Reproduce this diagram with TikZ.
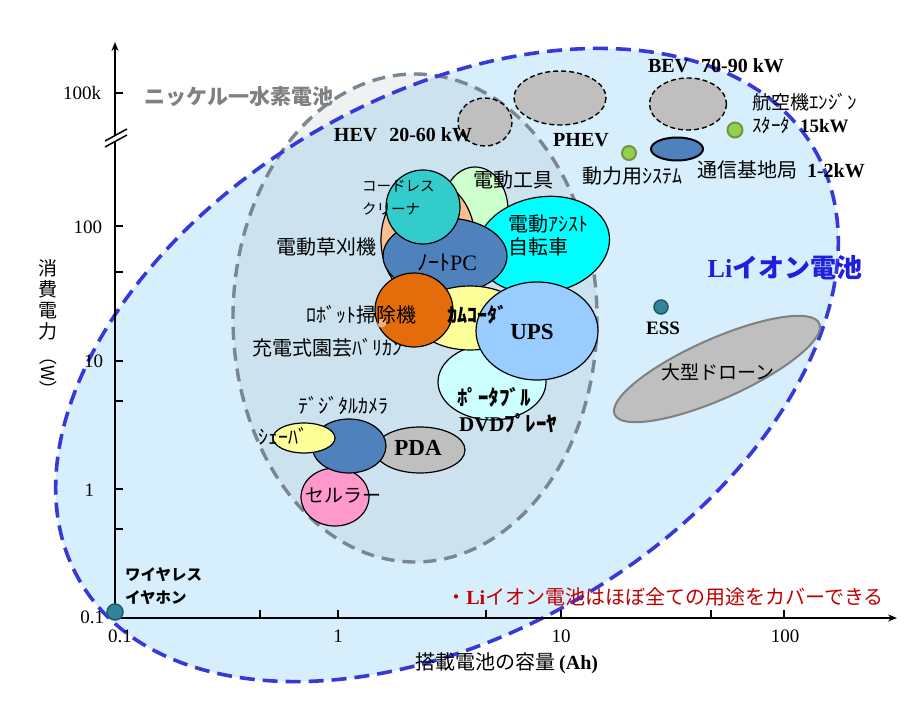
\documentclass[tikz,border=0pt]{standalone}
\usepackage{fontspec}
\usepackage{graphicx}
\setmainfont{Liberation Serif}
\newfontfamily\jp{Noto Sans CJK JP}
\usetikzlibrary{arrows.meta}
\newcommand{\myfs}[1]{\fontsize{#1}{#1}\selectfont}
\definecolor{lifill}{HTML}{D7EFFC}
\definecolor{liline}{HTML}{3838D8}
\definecolor{nimhfill}{HTML}{7F8C99}
\definecolor{nimhline}{HTML}{7A8690}
\definecolor{cgreen}{HTML}{CCFFCC}
\definecolor{cpeach}{HTML}{FAC090}
\definecolor{cteal}{HTML}{33CCCC}
\definecolor{cblue}{HTML}{4F81BD}
\definecolor{ccyan}{HTML}{00FFFF}
\definecolor{corange}{HTML}{E46C0A}
\definecolor{cyellow}{HTML}{FFFF99}
\definecolor{cups}{HTML}{99CCFF}
\definecolor{cdvd}{HTML}{CCFFFF}
\definecolor{cgray}{HTML}{BFBFBF}
\definecolor{cpink}{HTML}{FF99CC}
\definecolor{dotgreen}{HTML}{92D050}
\definecolor{dotgreenb}{HTML}{77933C}
\definecolor{dotteal}{HTML}{31849B}
\definecolor{dottealb}{HTML}{215968}
\definecolor{redtxt}{HTML}{C00000}
\definecolor{litxt}{HTML}{1F1FE0}
\definecolor{nimhtxt}{HTML}{808080}
\tikzset{
  bubble/.style={draw=black, line width=1.2pt},
  topev/.style={fill=cgray, draw=black, line width=1.4pt, dash pattern=on 5pt off 3pt},
  lbl/.style={inner sep=0pt, outer sep=0pt},
  tick/.style={line width=1.6pt},
}
\begin{document}
\begin{tikzpicture}[x=1pt,y=-1pt]
\useasboundingbox (0,0) rectangle (923,708);
\fill[white] (0,0) rectangle (923,708);

% Li-ion region
\fill[lifill, rotate around={30.6:(447,365)}] (447,365) ellipse [x radius=426, y radius=268];
% NiMH region
\fill[nimhfill, fill opacity=0.12] (415,318) ellipse [x radius=182, y radius=244];
\draw[nimhline, line width=3.4pt, dash pattern=on 13pt off 8pt] (415,318) ellipse [x radius=182, y radius=244];
\draw[liline, line width=3.6pt, dash pattern=on 15pt off 8pt, rotate around={30.6:(447,365)}] (447,365) ellipse [x radius=426, y radius=268];

% axes
\coordinate (o) at (115,618);
\coordinate (ytop) at (115,42);
\coordinate (xend) at (897,618);
\draw[line width=1.8pt, -{Stealth[length=9pt,width=7pt]}] (o) -- (ytop);
\draw[line width=1.8pt, -{Stealth[length=9pt,width=7pt]}] (o) -- (xend);
\foreach \yy in {93,226,272,361,401,489,529} \draw[tick] (115,\yy) -- (123,\yy);
\foreach \xx in {260,338,486,561,711,784} \draw[tick] (\xx,618) -- (\xx,610);
% axis break
\fill[white] (105,141) -- (127,129) -- (127,135) -- (105,147) -- cycle;
\draw[line width=1.5pt] (105,141) -- (127,129);
\draw[line width=1.5pt] (105,147) -- (127,135);

% top dashed EV ellipses
\draw[topev] (485,122) ellipse [x radius=27, y radius=24];
\draw[topev] (560,98) ellipse [x radius=46, y radius=27];
\draw[topev] (688,104) ellipse [x radius=38.5, y radius=26];

% small dots / right side
\filldraw[fill=dotgreen, draw=dotgreenb, line width=2pt] (735,130) circle [radius=7.5];
\filldraw[fill=dotgreen, draw=dotgreenb, line width=2pt] (629,153) circle [radius=7];
\filldraw[fill=cblue, draw=black, line width=2pt] (677,149) ellipse [x radius=26, y radius=11.5];
\filldraw[fill=dotteal, draw=dottealb, line width=1.5pt] (661,307) circle [radius=7];
\filldraw[fill=cgray, draw=gray, line width=2pt, rotate around={24:(717,369)}] (717,369) ellipse [x radius=112, y radius=30];

% central cluster
\filldraw[bubble, fill=cgreen] (475,210) ellipse [x radius=33, y radius=43];
\filldraw[bubble, fill=cpeach] (428,240) ellipse [x radius=47, y radius=60];
\filldraw[bubble, fill=ccyan, rotate around={10:(543,245)}] (543,245) ellipse [x radius=67, y radius=48];
\filldraw[bubble, fill=cblue] (445,256) ellipse [x radius=62, y radius=38];
\filldraw[bubble, fill=cteal] (423,207) circle [radius=37];
\filldraw[bubble, fill=cdvd] (492,382) ellipse [x radius=54, y radius=38];
\filldraw[bubble, fill=cyellow] (470,318) ellipse [x radius=55, y radius=32];
\filldraw[bubble, fill=corange] (414,310) ellipse [x radius=39, y radius=37];
\filldraw[bubble, fill=cups] (537,331) ellipse [x radius=61, y radius=49];
\filldraw[fill=cpeach!80!orange, draw=cpeach!60!black, line width=0.6pt] (382,323) circle [radius=5];

% lower cluster
\filldraw[bubble, fill=cpink] (335,497) ellipse [x radius=34, y radius=29];
\filldraw[bubble, fill=cgray] (420,450) ellipse [x radius=45, y radius=23];
\filldraw[bubble, fill=cblue] (349,446) ellipse [x radius=37, y radius=27];
\filldraw[bubble, fill=cyellow] (304,438) ellipse [x radius=31, y radius=15];

% origin dot
\filldraw[fill=dotteal, draw=dottealb, line width=1.5pt] (115,612) circle [radius=8];

% axis labels
\node[lbl, anchor=east] (l100k) at (101,93) {\myfs{19}100k};
\node[lbl, anchor=east] (l100) at (102,227) {\myfs{19}100};
\node[lbl, anchor=east] (l10) at (103,361) {\myfs{19}10};
\node[lbl, anchor=east] (l1) at (94,490) {\myfs{19}1};
\node[lbl, anchor=east] (l01y) at (104,617) {\myfs{19}0.1};
\node[lbl] (l01x) at (120,636) {\myfs{19}0.1};
\node[lbl] (lx1) at (338,636) {\myfs{19}1};
\node[lbl] (lx10) at (561,636) {\myfs{19}10};
\node[lbl] (lx100) at (785,636) {\myfs{19}100};
\node[lbl] (xtitle) at (507,663) {\jp\myfs{20}搭載電池の容量\,{\rmfamily\bfseries (Ah)}};
\node[lbl, align=center, font={\jp\fontsize{19}{21}\selectfont}] (ytitle1) at (48,300) {消\\費\\電\\力};
\node[lbl, rotate=-90] (ytitle2) at (48,373) {\jp\myfs{18}（W）};

% region labels
\node[lbl, text=nimhtxt] (nimh) at (239,97) {\jp\bfseries\myfs{21}ニッケル一水素電池};
\node[lbl, text=litxt] (liion) at (785,268) {\myfs{26}\bfseries Li{\jp イオン電池}};
\node[lbl, text=redtxt] (note) at (665,597) {\jp\myfs{20}・{\rmfamily\bfseries Li}イオン電池はほぼ全ての用途をカバーできる};

% EV labels
\node[lbl] (hev) at (403,135) {\myfs{20}\bfseries HEV\hspace{12pt}20-60 kW};
\node[lbl] (phev) at (581,140) {\myfs{20}\bfseries PHEV};
\node[lbl] (bev) at (716,66) {\myfs{20}\bfseries BEV\hspace{12pt}70-90 kW};
\node[lbl, anchor=west] (air1) at (752,102) {\jp\myfs{19}航空機ｴﾝｼﾞﾝ};
\node[lbl, anchor=west] (air2) at (752,125) {\jp\myfs{19}ｽﾀｰﾀ\hspace{10pt}{\rmfamily\bfseries 15kW}};
\node[lbl] (power) at (632,176) {\jp\myfs{20}動力用ｼｽﾃﾑ};
\node[lbl, anchor=west] (comm) at (697,170) {\jp\myfs{20}通信基地局\hspace{10pt}{\rmfamily\bfseries 1-2kW}};
\node[lbl] (ess) at (663,328) {\myfs{19}\bfseries ESS};
\node[lbl] (drone) at (718,372) {\jp\myfs{19}大型ドローン};

% cluster labels
\node[lbl] (tool) at (513,180) {\jp\myfs{20}電動工具};
\node[lbl, anchor=west, align=left, font={\jp\fontsize{14.5}{23}\selectfont}] (cleaner) at (362,198) {コードレス\\クリーナ};
\node[lbl] (mower) at (326,247) {\jp\myfs{20}電動草刈機};
\node[lbl] (pc) at (447,262) {\jp\myfs{22}ﾉｰﾄ{\rmfamily PC}};
\node[lbl, anchor=west, align=left, font={\jp\fontsize{20}{23}\selectfont}] (bike) at (508,236) {電動ｱｼｽﾄ\\自転車};
\node[lbl] (robot) at (361,315) {\jp\myfs{20}ﾛﾎﾞｯﾄ掃除機};
\node[lbl] (clipper) at (327,348) {\jp\myfs{20}充電式園芸ﾊﾞﾘｶﾝ};
\node[lbl] (camc) at (477,315) {\jp\bfseries\myfs{20}ｶﾑｺｰﾀﾞ};
\node[lbl] (ups) at (532,332) {\myfs{23}\bfseries UPS};
\node[lbl] (dvd1) at (494,397) {\jp\bfseries\myfs{21}ﾎﾟｰﾀﾌﾞﾙ};
\node[lbl] (dvd2) at (508,423) {\jp\bfseries\myfs{21}{\rmfamily DVD}ﾌﾟﾚｰﾔ};
\node[lbl] (dcam) at (343,406) {\jp\myfs{20}ﾃﾞｼﾞﾀﾙｶﾒﾗ};
\node[lbl] (shaver) at (283,436) {\jp\myfs{20}ｼｪｰﾊﾞ};
\node[lbl] (pda) at (418,448) {\myfs{23}\bfseries PDA};
\node[lbl] (cell) at (343,496) {\jp\myfs{19}セルラー};
\node[lbl, anchor=west, align=left, font={\jp\bfseries\fontsize{15.5}{23}\selectfont}] (earph) at (125,586) {ワイヤレス\\イヤホン};
\end{tikzpicture}
\end{document}
